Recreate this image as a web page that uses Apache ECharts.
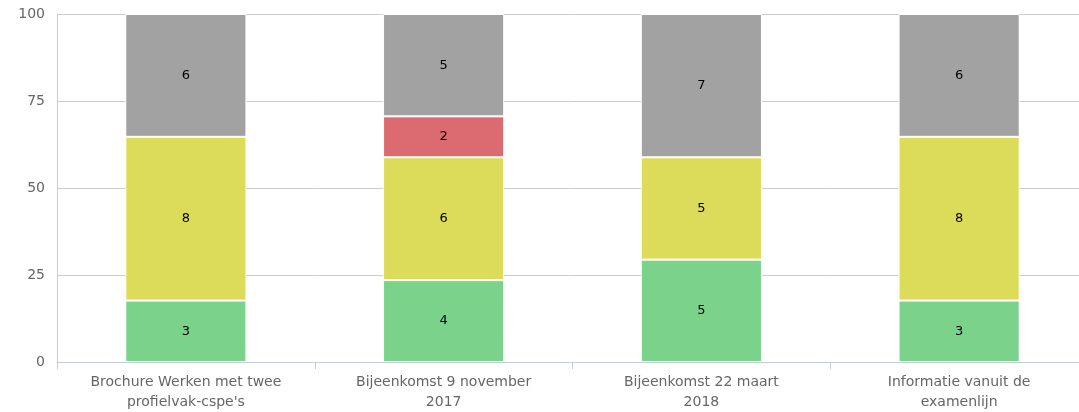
<!DOCTYPE html>
<html>
<head>
<meta charset="utf-8">
<script src="https://cdn.jsdelivr.net/npm/echarts@6/dist/echarts.min.js"></script>
<style>
  html, body { margin: 0; padding: 0; background: #fff; }
  #chart { width: 1079px; height: 412px; }
</style>
</head>
<body>
<div id="chart"></div>
<script>
// categorieën
var categories = [
  "Brochure Werken met twee\nprofielvak-cspe's",
  "Bijeenkomst 9 november\n2017",
  "Bijeenkomst 22 maart\n2018",
  "Informatie vanuit de\nexamenlijn"
];
// aantallen per reeks (van onder naar boven)
var greenCounts = [3, 4, 5, 3];
var yellowCounts = [8, 6, 5, 8];
var redCounts = [0, 2, 0, 0];
var greyCounts = [6, 5, 7, 6];
var yTicks = [0, 25, 50, 75, 100];

var totals = categories.map(function (c, i) {
  return greenCounts[i] + yellowCounts[i] + redCounts[i] + greyCounts[i];
});

// omzetten naar percentages, label toont het aantal
function toPercent(counts) {
  return counts.map(function (v, i) {
    return { value: v ? (v / totals[i]) * 100 : null, count: v };
  });
}

function makeSeries(name, counts, color) {
  return {
    name: name,
    type: "bar",
    stack: "total",
    barWidth: "47%",
    data: toPercent(counts),
    itemStyle: { color: color, borderColor: "#fff", borderWidth: 1 },
    label: {
      show: true,
      position: "inside",
      color: "#000",
      fontSize: 13,
      fontFamily: "DejaVu Sans",
      formatter: function (p) {
        return p.data.count ? String(p.data.count) : "";
      }
    }
  };
}

var chart = echarts.init(document.getElementById("chart"));
chart.setOption({
  animation: false,
  grid: { left: 57, right: -9, top: 14, bottom: 50, outerBoundsMode: "none", containLabel: false },
  xAxis: {
    type: "category",
    data: categories,
    axisLine: { lineStyle: { color: "#c4ceda" } },
    axisTick: { show: true, length: 7, lineStyle: { color: "#c4ceda" } },
    axisLabel: {
      color: "#666",
      fontSize: 14,
      fontFamily: "DejaVu Sans",
      lineHeight: 20,
      margin: 10,
      interval: 0
    }
  },
  yAxis: {
    type: "value",
    min: yTicks[0],
    max: yTicks[yTicks.length - 1],
    interval: 25,
    axisLine: { show: true, lineStyle: { color: "#ccc" } },
    axisTick: { show: false },
    splitLine: { lineStyle: { color: "#ccc" } },
    axisLabel: {
      color: "#666",
      fontSize: 14,
      fontFamily: "DejaVu Sans",
      margin: 12
    }
  },
  series: [
    makeSeries("groen", greenCounts, "#7bd38b"),
    makeSeries("geel", yellowCounts, "#dddc5a"),
    makeSeries("rood", redCounts, "#db6b70"),
    makeSeries("grijs", greyCounts, "#a2a2a2")
  ]
});
</script>
</body>
</html>
